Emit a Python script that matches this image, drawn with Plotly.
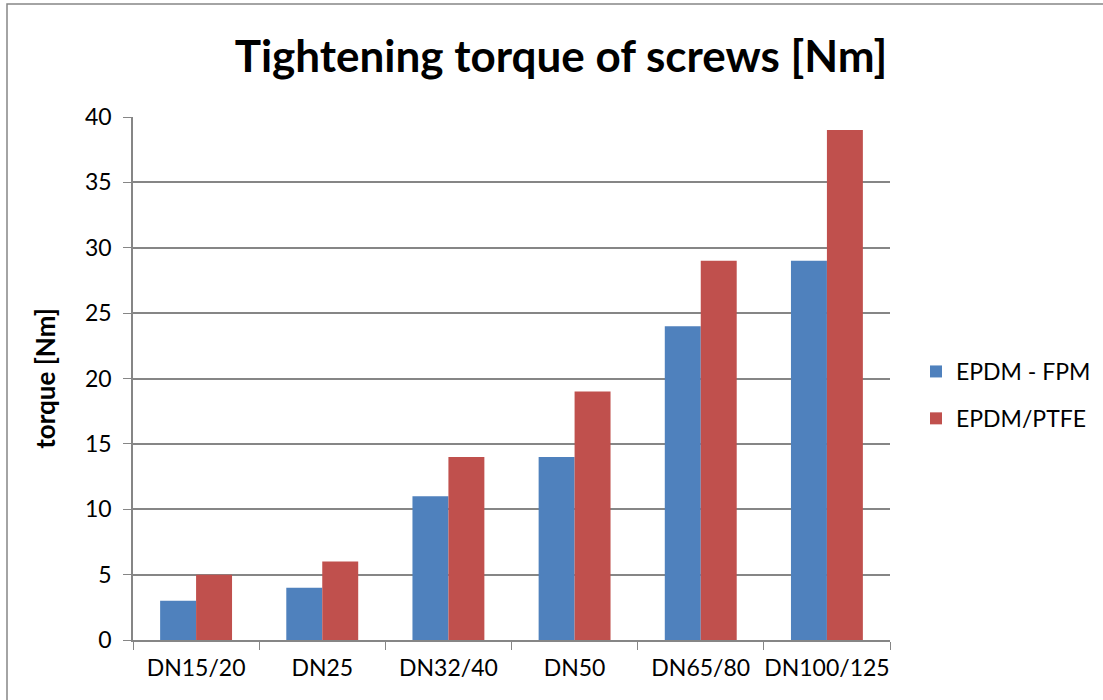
import plotly.graph_objects as go

categories = ["DN15/20", "DN25", "DN32/40", "DN50", "DN65/80", "DN100/125"]
epdm_fpm = [3, 4, 11, 14, 24, 29]
epdm_ptfe = [5, 6, 14, 19, 29, 39]
y_ticks = [0, 5, 10, 15, 20, 25, 30, 35, 40]

FONT = "Lato"
W, H = 1103, 700
L, R, T, B = 133, 1103 - 890, 117, 700 - 640
pw, ph = W - L - R, H - T - B

def px(x):
    return (x - L) / pw

def py(y):
    return (H - B - y) / ph

fig = go.Figure()
fig.add_trace(go.Bar(x=categories, y=epdm_fpm, name="EPDM - FPM",
                     marker=dict(color="#4F81BD", line=dict(width=0)),
                     legendgroup="a"))
fig.add_trace(go.Bar(x=categories, y=epdm_ptfe, name="EPDM/PTFE",
                     marker=dict(color="#C0504D", line=dict(width=0)),
                     legendgroup="b"))

fig.update_layout(
    width=W, height=H,
    margin=dict(l=L, r=R, t=T, b=B, autoexpand=False),
    paper_bgcolor="white", plot_bgcolor="white",
    barmode="group", bargap=0.43, bargroupgap=0,
    font=dict(family=FONT, color="black", size=23),
    title=dict(text="<b>Tightening torque of screws [Nm]</b>",
               x=px(561), xref="paper", xanchor="center",
               y=1 - 57 / H, yref="container", yanchor="middle",
               font=dict(family=FONT, size=44, color="black")),
    legend=dict(x=px(916), y=py(395), xanchor="left", yanchor="middle",
                font=dict(family=FONT, size=23), tracegroupgap=14,
                itemsizing="constant", bgcolor="rgba(0,0,0,0)"),
    xaxis=dict(showline=True, linecolor="#868686", linewidth=1.5,
               ticks="outside", ticklen=8, tickcolor="#868686",
               tickson="boundaries", showgrid=False, ticklabelstandoff=7,
               tickangle=0,
               tickfont=dict(family=FONT, size=23)),
    yaxis=dict(range=[0, 40], tickvals=y_ticks, showline=True,
               linecolor="#868686", linewidth=1.5, ticks="outside",
               ticklen=8, tickcolor="#868686", showgrid=True,
               gridcolor="#868686", gridwidth=1.5, zeroline=False,
               ticklabelstandoff=7,
               tickfont=dict(family=FONT, size=23),
               title=dict(text="<b>torque [Nm]</b>", standoff=22,
                          font=dict(family=FONT, size=26))),
    shapes=[dict(type="rect", xref="paper", yref="paper",
                 x0=px(7), x1=px(1120), y0=py(4), y1=py(720),
                 line=dict(color="#868686", width=1.5), layer="below")],
)

fig.write_html("out.html", config={"displayModeBar": False},
               post_script="document.body.style.margin='0';document.body.style.padding='0';")
